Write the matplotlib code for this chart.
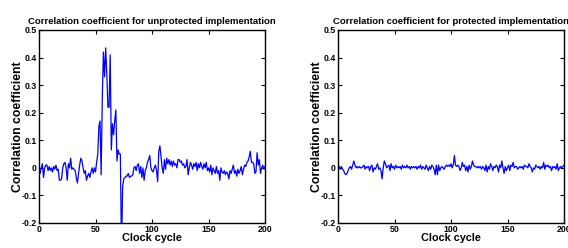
import numpy as np
import matplotlib
matplotlib.use('Agg')
import matplotlib.pyplot as plt

plt.rcParams['font.family'] = ['Liberation Sans', 'DejaVu Sans']
plt.rcParams['font.weight'] = 'bold'

# correlation per clock cycle
unprotected = [
    -0.02, 0.0, 0.015, -0.035, 0.0, 0.01, 0.01, -0.01, 0.005, -0.01,
    0.0, -0.015, 0.005, -0.005, 0.01, -0.01, -0.005, -0.045, -0.045, -0.04,
    0.0, 0.015, 0.02, 0.0, -0.045, 0.015, 0.0, 0.035, -0.005, 0.0,
    -0.005, -0.01, -0.035, -0.055, -0.02, 0.01, 0.035, 0.025, 0.0, -0.02,
    -0.01, -0.045, -0.03, -0.02, -0.035, -0.015, 0.0, -0.02, 0.0, -0.015,
    0.02, 0.05, 0.15, 0.17, -0.025, 0.25, 0.42, 0.33, 0.435, 0.34,
    0.22, 0.22, 0.41, 0.065, 0.16, 0.12, 0.17, 0.21, 0.025, 0.065,
    0.05, 0.05, -0.3, -0.07, -0.04, -0.035, -0.03, -0.03, -0.02, -0.035,
    -0.03, -0.03, -0.025, 0.0, 0.005, -0.01, 0.01, 0.015, -0.02, 0.005,
    -0.035, 0.0, -0.045, -0.01, 0.0, 0.02, 0.03, 0.045, 0.0, -0.01,
    -0.015, 0.0, 0.01, -0.01, -0.05, 0.06, 0.08, 0.04, 0.0, -0.02,
    0.03, -0.005, 0.035, 0.015, 0.03, 0.01, 0.025, 0.005, 0.025, 0.01,
    0.015, 0.0, 0.03, 0.03, 0.02, 0.025, 0.01, 0.015, 0.0, 0.005,
    0.03, -0.025, 0.0, 0.02, 0.01, -0.005, 0.015, 0.005, 0.02, -0.01,
    0.015, 0.0, 0.02, 0.005, -0.005, 0.015, 0.0, 0.02, -0.01, 0.0,
    -0.015, 0.01, -0.025, 0.0, -0.01, -0.02, 0.005, -0.02, -0.01, -0.045,
    0.0, -0.015, -0.02, -0.01, -0.025, -0.015, -0.02, -0.04, -0.01, -0.02,
    -0.005, 0.01, -0.02, -0.01, -0.03, -0.005, -0.02, -0.01, 0.005, -0.025,
    -0.005, 0.01, 0.005, 0.02, 0.025, 0.04, 0.06, 0.02, 0.02, 0.015,
    -0.02, -0.015, 0.055, 0.01, 0.03, -0.02, 0.0, 0.01, -0.005, 0.005,
]

protected = [
    0.005, -0.005, 0.005, -0.005, -0.01, -0.02, -0.025, -0.02, -0.01, 0.0,
    0.005, -0.005, 0.01, 0.025, 0.01, 0.0, 0.005, 0.0, 0.005, 0.0,
    0.0, 0.005, 0.01, -0.005, 0.005, 0.0, 0.005, -0.01, 0.005, 0.01,
    -0.015, 0.0, -0.005, 0.005, 0.015, -0.005, 0.0, -0.01, -0.04, 0.0,
    0.025, 0.015, 0.0, 0.005, 0.01, -0.01, 0.015, 0.0, 0.005, -0.005,
    0.01, 0.0, 0.005, 0.0, 0.005, -0.005, 0.01, 0.0, 0.005, 0.0,
    0.01, 0.0, 0.005, -0.005, 0.005, 0.0, 0.005, 0.0, 0.005, -0.005,
    0.005, 0.0, 0.01, -0.005, 0.005, 0.0, -0.005, 0.01, 0.0, -0.01,
    0.005, -0.005, 0.01, 0.005, -0.005, -0.025, 0.01, -0.025, 0.01, -0.01,
    0.0, 0.005, 0.0, -0.005, 0.005, 0.01, 0.005, 0.01, 0.005, 0.015,
    0.0, 0.01, 0.045, 0.01, 0.005, 0.01, 0.005, -0.01, 0.0, 0.02,
    0.005, 0.01, -0.01, 0.005, -0.015, 0.01, -0.005, 0.005, 0.025, 0.01,
    0.005, 0.005, 0.0, 0.005, 0.0, 0.005, -0.005, 0.005, 0.0, -0.01,
    0.01, -0.015, 0.005, -0.005, 0.015, 0.005, -0.01, 0.005, 0.0, 0.01,
    0.005, -0.015, 0.01, 0.0, 0.025, 0.0, -0.02, 0.005, -0.01, 0.0,
    0.01, -0.01, 0.01, 0.005, 0.02, 0.0, 0.005, 0.005, -0.005, 0.0,
    0.005, 0.0, 0.005, -0.005, 0.01, 0.005, 0.005, 0.0, 0.015, 0.005,
    0.0, -0.015, 0.0, -0.005, 0.01, 0.005, 0.0, 0.005, -0.005, 0.005,
    0.0, 0.02, -0.005, 0.01, 0.005, 0.01, 0.0, 0.005, -0.01, 0.005,
    0.0, 0.005, -0.005, 0.015, -0.01, 0.0, 0.005, 0.0, 0.005, 0.01,
]

cycles = np.arange(1, len(unprotected) + 1)
xticks = [0, 50, 100, 150, 200]
yticks = [-0.2, -0.1, 0, 0.1, 0.2, 0.3, 0.4, 0.5]
yticklabels = ['-0.2', '-0.1', '0', '0.1', '0.2', '0.3', '0.4', '0.5']

W, H = 568, 248
fig = plt.figure(figsize=(W / 100, H / 100), dpi=100)

panels = [
    (39, unprotected, 'Correlation coefficient for unprotected implementation'),
    (338, protected, 'Correlation coefficient for protected implementation'),
]

for left, series, title in panels:
    ax = fig.add_axes([left / W, 1 - 223 / H, 226 / W, 193 / H])
    ax.plot(cycles, series, color='#0000ff', lw=0.9)
    ax.set_xlim(0, 200)
    ax.set_ylim(-0.2, 0.5)
    ax.set_xticks(xticks)
    ax.set_yticks(yticks)
    ax.set_yticklabels(yticklabels)
    ax.tick_params(direction='in', length=3, width=0.8, labelsize=6.3, pad=1.5,
                   top=True, right=True)
    for s in ax.spines.values():
        s.set_linewidth(1.0)
    ax.set_title(title, fontsize=6.8, fontweight='bold', pad=4)
    ax.set_xlabel('Clock cycle', fontsize=7.8, fontweight='bold', labelpad=-1)
    ax.set_ylabel('Correlation coefficient', fontsize=8.8, fontweight='bold', labelpad=-2)

fig.savefig('out.png', dpi=100)
